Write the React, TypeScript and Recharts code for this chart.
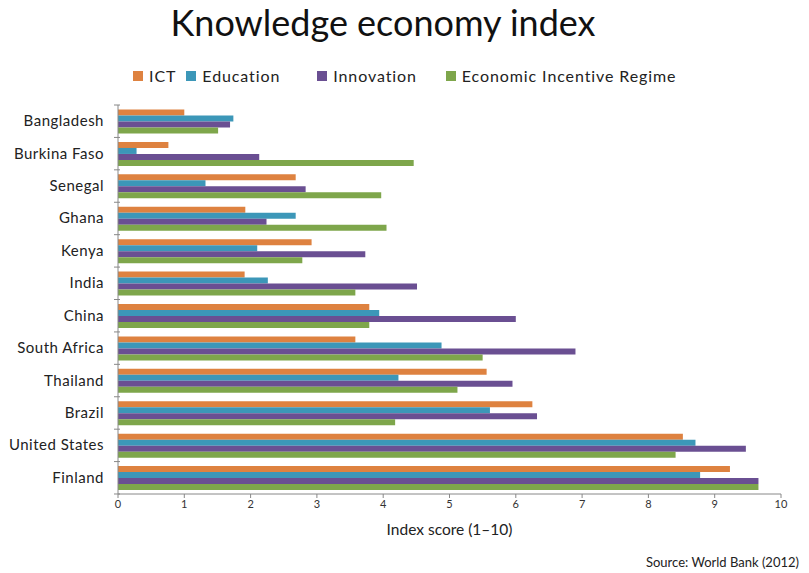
import { BarChart, Bar, XAxis, YAxis } from 'recharts';

const countries = ['Bangladesh', 'Burkina Faso', 'Senegal', 'Ghana', 'Kenya', 'India', 'China', 'South Africa', 'Thailand', 'Brazil', 'United States', 'Finland'];
const ict = [1.0, 0.76, 2.68, 1.92, 2.92, 1.91, 3.79, 3.58, 5.56, 6.25, 8.52, 9.23];
const education = [1.74, 0.28, 1.32, 2.68, 2.1, 2.26, 3.94, 4.88, 4.23, 5.61, 8.71, 8.78];
const innovation = [1.69, 2.13, 2.83, 2.24, 3.73, 4.51, 6.0, 6.9, 5.95, 6.32, 9.47, 9.66];
const incentive = [1.51, 4.46, 3.97, 4.05, 2.78, 3.58, 3.79, 5.5, 5.12, 4.18, 8.41, 9.66];
const xTicks = [0, 1, 2, 3, 4, 5, 6, 7, 8, 9, 10];

const SERIES = [
    { key: 'ict', name: 'ICT', color: '#DE8240', gap: 10 },
    { key: 'education', name: 'Education', color: '#3C97B8', gap: 37 },
    { key: 'innovation', name: 'Innovation', color: '#6A4F92', gap: 29 },
    { key: 'incentive', name: 'Economic Incentive Regime', color: '#7EA64B', gap: 0 },
];

const data = countries.map((c, i) => ({
    country: c,
    ict: ict[i],
    education: education[i],
    innovation: innovation[i],
    incentive: incentive[i],
}));

const FONT = 'Lato, "Open Sans", sans-serif';

// category label plus a short tick on the band boundary, like the original
function CountryTick(props: any) {
    const { x, y, payload } = props;
    const band = 32.4;
    return (
        <g>
            <line x1={x + 4} x2={x + 10} y1={y - band / 2} y2={y - band / 2} stroke="#888" />
            {payload.index === countries.length - 1 && (
                <line x1={x + 4} x2={x + 10} y1={y + band / 2} y2={y + band / 2} stroke="#888" />
            )}
            <text x={x - 6} y={y} dy={5} textAnchor="end" fontSize={15} fill="#222" fontFamily={FONT} letterSpacing={0.5}>
                {payload.value}
            </text>
        </g>
    );
}

export default function App() {
    return (
        <div style={{ position: 'absolute', left: 0, top: 0, width: 809, height: 573, background: '#fff', fontFamily: FONT }}>
            <div style={{ position: 'absolute', top: 0, left: 0, width: 766, textAlign: 'center', fontSize: 36, color: '#111' }}>
                Knowledge economy index
            </div>
            <div style={{ position: 'absolute', top: 66, left: 133, display: 'flex', fontSize: 16, letterSpacing: 0.9, color: '#222' }}>
                {SERIES.map((s) => (
                    <div key={s.key} style={{ display: 'flex', alignItems: 'center', marginRight: s.gap }}>
                        <span style={{ width: 10, height: 10, background: s.color, display: 'inline-block', marginRight: 6 }} />
                        <span>{s.name}</span>
                    </div>
                ))}
            </div>
            <BarChart
                width={809}
                height={573}
                data={data}
                layout="vertical"
                margin={{ top: 105, right: 28, bottom: 49, left: 0 }}
                barCategoryGap="14%"
                barGap={0}
            >
                <XAxis
                    type="number"
                    domain={[0, 10]}
                    ticks={xTicks}
                    interval={0}
                    stroke="#888"
                    tickSize={4}
                    tick={{ fontSize: 11, fill: '#333', fontFamily: FONT }}
                />
                <YAxis
                    type="category"
                    dataKey="country"
                    width={118}
                    stroke="#888"
                    tickLine={false}
                    tick={<CountryTick />}
                    interval={0}
                />
                {SERIES.map((s) => (
                    <Bar key={s.key} dataKey={s.key} name={s.name} fill={s.color} isAnimationActive={false} />
                ))}
            </BarChart>
            <div style={{ position: 'absolute', top: 520, left: 118, width: 663, textAlign: 'center', fontSize: 15.5, color: '#222' }}>
                Index score (1–10)
            </div>
            <div style={{ position: 'absolute', top: 554, right: 10, fontSize: 13, color: '#222' }}>
                Source: World Bank (2012)
            </div>
        </div>
    );
}
